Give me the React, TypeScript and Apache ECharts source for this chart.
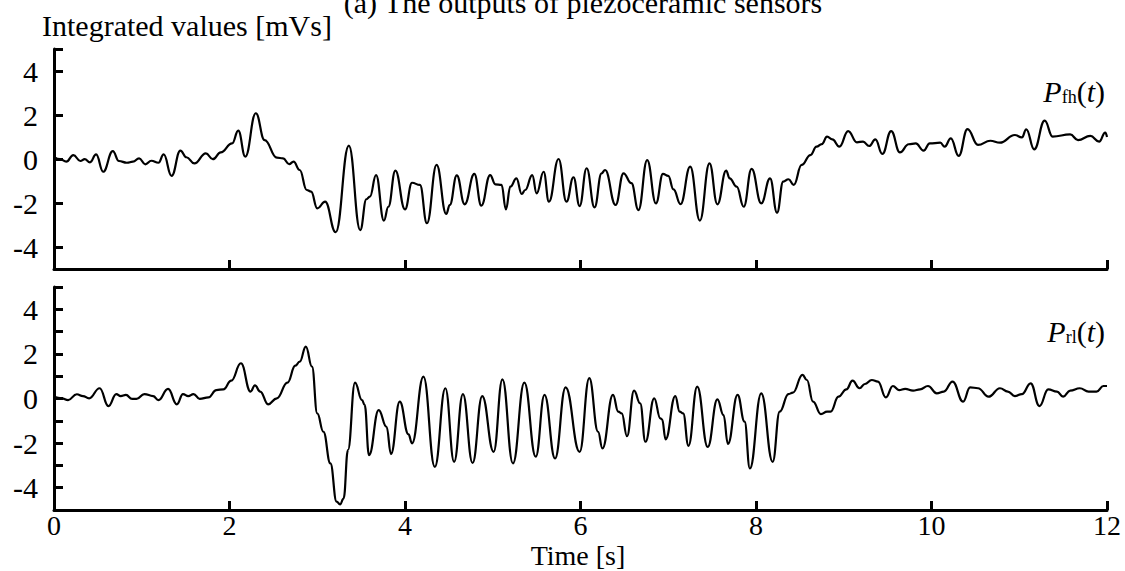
import React, { useEffect, useRef } from "react";
import * as echarts from "echarts";

const FONT = '"Liberation Serif", "Times New Roman", serif';

const xTickLabels = [0, 2, 4, 6, 8, 10, 12];
const yTickLabels = [-4, -2, 0, 2, 4];

// P_fh(t): time [s], integrated value [mVs]
const fhPoints: [number, number][] = [
  [0, 0.1], [0.07, -0.01], [0.14, -0.12], [0.22, 0.18], [0.3, -0.09], [0.35, -0.01], [0.41, -0.15],
  [0.48, 0.21], [0.56, -0.58], [0.67, 0.36], [0.74, -0.09], [0.83, -0.17], [0.9, -0.12], [0.97, 0.03],
  [1.04, -0.24], [1.11, -0.08], [1.19, -0.17], [1.25, 0.21], [1.34, -0.77], [1.44, 0.38], [1.51, 0.08],
  [1.6, -0.2], [1.73, 0.26], [1.81, -0.01], [1.9, 0.3], [2.03, 0.71], [2.1, 1.29], [2.18, 0.11],
  [2.3, 2.08], [2.4, 0.86], [2.54, 0.06], [2.61, 0.03], [2.68, -0.23], [2.73, -0.12], [2.8, -0.5],
  [2.88, -1.41], [2.93, -1.48], [3.0, -2.24], [3.09, -1.94], [3.21, -3.33], [3.36, 0.61], [3.49, -3.23],
  [3.56, -1.83], [3.6, -1.71], [3.67, -0.73], [3.76, -2.8], [3.81, -2.17], [3.89, -0.53], [4.0, -2.29],
  [4.08, -1.08], [4.17, -1.18], [4.25, -2.92], [4.36, -0.27], [4.47, -2.5], [4.51, -2.09], [4.59, -0.74],
  [4.68, -2.06], [4.79, -0.68], [4.87, -2.12], [4.97, -0.73], [5.03, -1.15], [5.1, -1.18], [5.15, -2.29],
  [5.2, -1.26], [5.27, -0.88], [5.33, -1.59], [5.37, -1.41], [5.45, -0.73], [5.5, -1.56], [5.58, -0.58],
  [5.64, -1.94], [5.75, 0.0], [5.84, -1.94], [5.92, -0.83], [5.99, -2.14], [6.07, -0.42], [6.16, -2.2],
  [6.24, -0.65], [6.28, -0.5], [6.4, -2.09], [6.49, -0.65], [6.58, -1.1], [6.66, -2.32], [6.76, -0.05],
  [6.86, -2.02], [6.94, -0.68], [7.0, -0.77], [7.06, -1.38], [7.14, -2.05], [7.25, -0.35], [7.36, -2.8],
  [7.47, -0.2], [7.56, -2.06], [7.66, -0.53], [7.7, -0.88], [7.78, -1.26], [7.86, -2.17], [7.95, -0.45],
  [8.06, -2.02], [8.16, -0.88], [8.24, -2.44], [8.31, -1.03], [8.37, -0.92], [8.43, -1.18], [8.52, -0.27],
  [8.62, 0.18], [8.69, 0.56], [8.75, 0.68], [8.81, 1.02], [8.87, 0.89], [8.95, 0.56], [9.05, 1.27],
  [9.15, 0.76], [9.22, 0.79], [9.29, 0.59], [9.36, 0.89], [9.44, 0.23], [9.54, 1.27], [9.64, 0.3],
  [9.74, 0.67], [9.82, 0.71], [9.91, 0.38], [9.98, 0.71], [10.1, 0.74], [10.15, 0.56], [10.22, 0.94],
  [10.31, 0.14], [10.41, 1.36], [10.53, 0.64], [10.67, 0.83], [10.78, 0.74], [10.95, 1.09], [11.03, 0.98],
  [11.08, 1.35], [11.17, 0.44], [11.29, 1.74], [11.38, 1.02], [11.58, 1.12], [11.67, 0.86], [11.81, 1.05],
  [11.91, 0.79], [11.98, 1.2], [12.0, 1.0],
];

// P_rl(t): time [s], integrated value [mVs]
const rlPoints: [number, number][] = [
  [0, 0.08], [0.09, 0.01], [0.16, -0.07], [0.26, 0.19], [0.33, 0.11], [0.4, 0.01], [0.52, 0.46],
  [0.62, -0.34], [0.71, 0.2], [0.76, 0.11], [0.82, 0.16], [0.89, -0.02], [0.94, -0.02], [1.03, 0.2],
  [1.13, 0.11], [1.19, -0.07], [1.3, 0.43], [1.4, -0.26], [1.47, 0.2], [1.53, 0.11], [1.59, 0.2],
  [1.66, -0.02], [1.76, 0.05], [1.85, 0.38], [1.93, 0.41], [2.02, 0.8], [2.13, 1.58], [2.24, 0.31],
  [2.29, 0.59], [2.35, 0.31], [2.44, -0.26], [2.54, 0.01], [2.66, 0.71], [2.75, 1.47], [2.8, 1.65],
  [2.87, 2.33], [2.94, 1.43], [3.0, -0.67], [3.07, -1.49], [3.15, -2.91], [3.22, -4.62], [3.26, -4.75],
  [3.3, -4.49], [3.35, -2.31], [3.43, 0.71], [3.51, -0.07], [3.54, -0.29], [3.59, -2.54], [3.7, -0.52],
  [3.79, -1.27], [3.84, -2.49], [3.94, -0.14], [4.04, -1.61], [4.08, -2.01], [4.21, 0.98], [4.34, -3.07],
  [4.46, 0.46], [4.56, -2.84], [4.66, 0.2], [4.77, -2.89], [4.88, 0.11], [5.01, -2.39], [5.11, 0.86],
  [5.23, -2.91], [5.36, 0.71], [5.49, -2.61], [5.59, 0.16], [5.71, -2.69], [5.83, 0.5], [5.99, -2.39],
  [6.1, 0.91], [6.2, -1.49], [6.25, -2.24], [6.37, 0.16], [6.43, -0.59], [6.47, -0.67], [6.53, -1.69],
  [6.61, 0.35], [6.68, -0.22], [6.74, -1.94], [6.84, 0.01], [6.91, -0.89], [6.93, -0.94], [6.97, -1.83],
  [7.08, 0.11], [7.13, -0.59], [7.17, -0.67], [7.23, -2.12], [7.33, 0.53], [7.45, -2.17], [7.56, -0.04],
  [7.63, -0.74], [7.68, -2.04], [7.79, 0.16], [7.87, -1.04], [7.93, -3.14], [8.06, 0.23], [8.19, -2.84],
  [8.27, -0.59], [8.37, 0.2], [8.42, 0.26], [8.53, 1.06], [8.58, 0.83], [8.65, -0.14], [8.74, -0.7],
  [8.81, -0.59], [8.85, -0.59], [8.94, 0.08], [9.03, 0.41], [9.1, 0.8], [9.18, 0.46], [9.24, 0.65],
  [9.32, 0.83], [9.39, 0.76], [9.48, 0.05], [9.56, 0.56], [9.63, 0.38], [9.7, 0.43], [9.79, 0.35],
  [9.87, 0.41], [9.96, 0.56], [10.06, 0.23], [10.14, 0.31], [10.24, 0.76], [10.36, -0.14], [10.44, 0.5],
  [10.53, 0.46], [10.65, 0.08], [10.78, 0.46], [10.87, 0.31], [10.95, 0.11], [11.03, 0.2], [11.13, 0.68],
  [11.23, -0.34], [11.33, 0.41], [11.43, 0.31], [11.5, 0.08], [11.58, 0.35], [11.69, 0.46], [11.79, 0.31],
  [11.88, 0.31], [11.96, 0.56], [12.0, 0.56],
];

const titleText = "(a) The outputs of piezoceramic sensors";
const yAxisTitle = "Integrated values [mVs]";
const xAxisTitle = "Time [s]";

export default function App() {
  const ref = useRef<HTMLDivElement>(null);

  useEffect(() => {
    if (!ref.current) return;
    const chart = echarts.init(ref.current, undefined, { renderer: "svg" });
    const black = "#000";
    const axisLine = { show: true, onZero: false, lineStyle: { color: black, width: 3 } };

    const xAxisBase = (gridIndex: number, showLabels: boolean) => ({
      type: "value" as const,
      gridIndex,
      min: 0,
      max: 12,
      interval: 2,
      axisLine,
      axisTick: {
        show: true,
        inside: true,
        length: 9,
        lineStyle: { color: black, width: 3 },
        customValues: [2, 4, 6, 8, 10, 12],
      },
      axisLabel: {
        show: showLabels,
        margin: 3,
        color: black,
        fontFamily: FONT,
        fontSize: 28,
        lineHeight: 24,
        customValues: xTickLabels,
      },
      splitLine: { show: false },
    });

    const yAxisBase = (gridIndex: number, ticks: number[]) => ({
      type: "value" as const,
      gridIndex,
      min: -5,
      max: 5,
      interval: 1,
      axisLine,
      axisTick: {
        show: true,
        inside: true,
        length: 9,
        lineStyle: { color: black, width: 3 },
        customValues: ticks,
      },
      axisLabel: {
        show: true,
        margin: 16,
        color: black,
        fontFamily: FONT,
        fontSize: 30,
        customValues: yTickLabels,
      },
      splitLine: { show: false },
    });

    const rich = {
      i: { fontStyle: "italic", fontSize: 30, fontFamily: FONT, fill: black, verticalAlign: "bottom" },
      s: { fontSize: 18, fontFamily: FONT, fill: black, verticalAlign: "bottom" },
      n: { fontSize: 30, fontFamily: FONT, fill: black, verticalAlign: "bottom" },
    };

    chart.setOption({
      animation: false,
      backgroundColor: "#fff",
      grid: [
        { left: 54, top: 49, width: 1053, height: 220 },
        { left: 54, top: 287, width: 1053, height: 223 },
      ],
      xAxis: [xAxisBase(0, false), xAxisBase(1, true)],
      yAxis: [
        yAxisBase(0, [-4, -2, 0, 2, 4, 5]),
        yAxisBase(1, [-4, -3, -2, -1, 0, 1, 2, 3, 4, 5]),
      ],
      series: [
        {
          type: "line",
          xAxisIndex: 0,
          yAxisIndex: 0,
          data: fhPoints,
          showSymbol: false,
          smooth: 0.45,
          smoothMonotone: "x",
          lineStyle: { color: black, width: 2.2 },
        },
        {
          type: "line",
          xAxisIndex: 1,
          yAxisIndex: 1,
          data: rlPoints,
          showSymbol: false,
          smooth: 0.45,
          smoothMonotone: "x",
          lineStyle: { color: black, width: 2.2 },
        },
      ],
      graphic: [
        {
          type: "text",
          x: 583,
          y: 2,
          style: {
            text: titleText,
            fontSize: 30,
            fontFamily: FONT,
            fill: black,
            align: "center",
            verticalAlign: "middle",
            textAlign: "center",
            textVerticalAlign: "middle",
          },
        },
        {
          type: "text",
          x: 42,
          y: 25,
          style: {
            text: yAxisTitle,
            fontSize: 30,
            fontFamily: FONT,
            fill: black,
            align: "left",
            verticalAlign: "middle",
            textAlign: "left",
            textVerticalAlign: "middle",
          },
        },
        {
          type: "text",
          x: 578,
          y: 555,
          style: {
            text: xAxisTitle,
            fontSize: 28,
            lineHeight: 24,
            fontFamily: FONT,
            fill: black,
            align: "center",
            verticalAlign: "middle",
            textAlign: "center",
            textVerticalAlign: "middle",
          },
        },
        {
          type: "text",
          right: 20,
          top: 76,
          style: { text: "{i|P}{s|fh}{n|(}{i|t}{n|)}", rich },
        },
        {
          type: "text",
          right: 20,
          top: 316,
          style: { text: "{i|P}{s|rl}{n|(}{i|t}{n|)}", rich },
        },
      ],
    });

    return () => chart.dispose();
  }, []);

  return (
    <div
      ref={ref}
      style={{ position: "fixed", left: 0, top: 0, width: 1125, height: 571, background: "#fff" }}
    />
  );
}
